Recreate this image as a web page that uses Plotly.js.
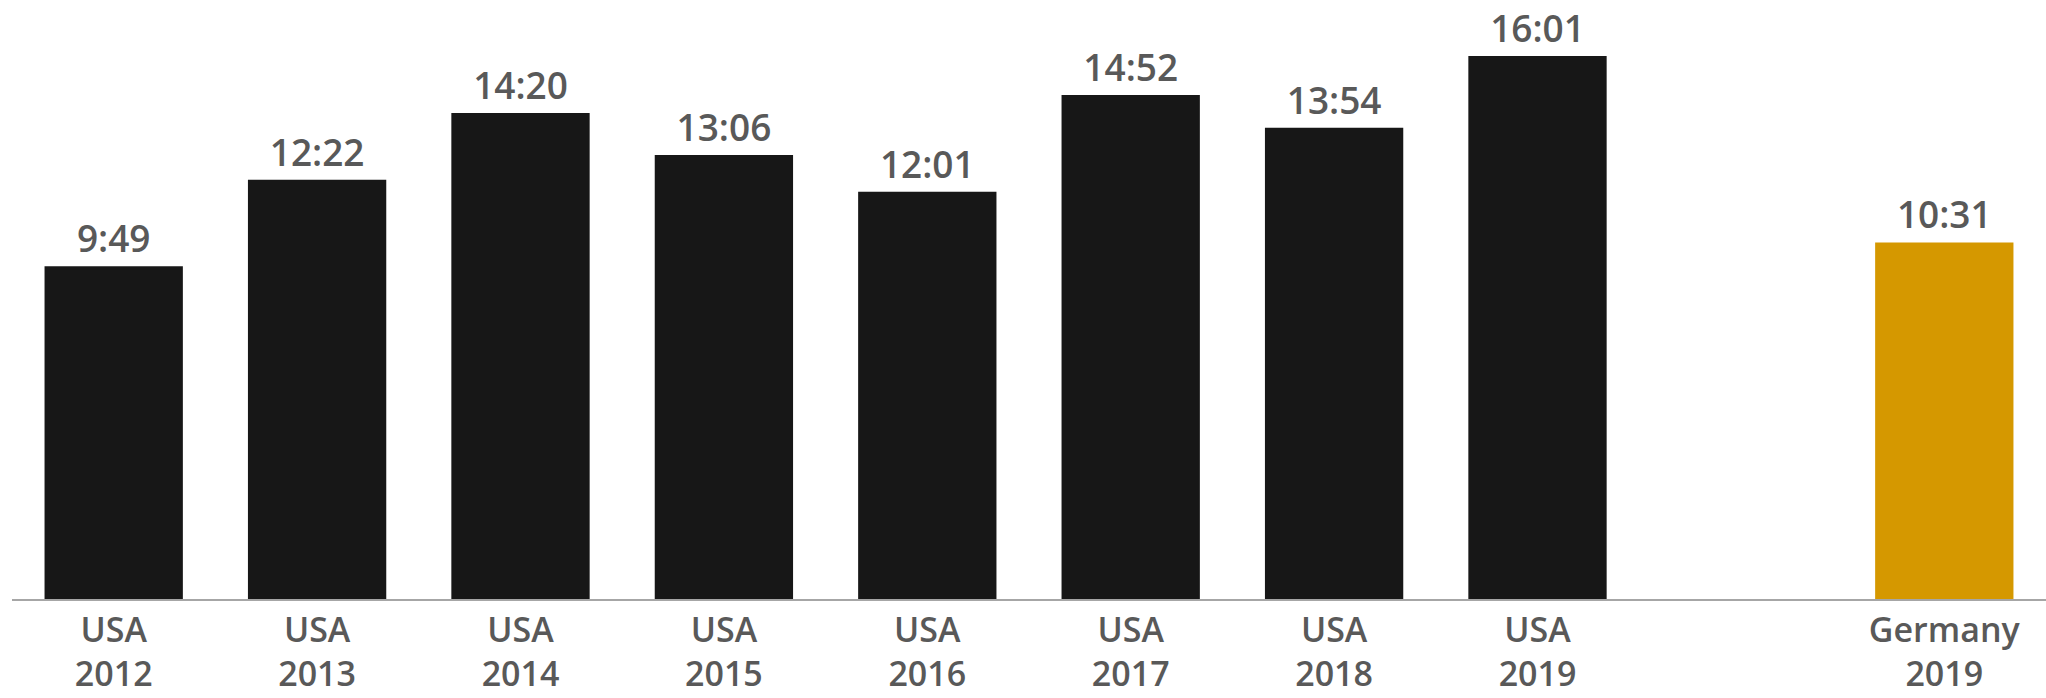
<!DOCTYPE html>
<html>
<head>
<meta charset="utf-8">
<script src="https://cdn.plot.ly/plotly-3.0.1.min.js"></script>
<style>
  html, body { margin: 0; padding: 0; background: #ffffff; }
  #chart { width: 2046px; height: 698px; }
</style>
</head>
<body>
<div id="chart"></div>
<script>
// ---- data ----
var usaLabels = ['USA<br>2012', 'USA<br>2013', 'USA<br>2014', 'USA<br>2015', 'USA<br>2016', 'USA<br>2017', 'USA<br>2018', 'USA<br>2019'];
var usaTimes = ['9:49', '12:22', '14:20', '13:06', '12:01', '14:52', '13:54', '16:01'];
var germanyLabel = 'Germany<br>2019';
var germanyTime = '10:31';

// ---- helpers ----
function toMinutes(t) {
  var p = t.split(':');
  return parseInt(p[0], 10) + parseInt(p[1], 10) / 60;
}

var labels = usaLabels.concat([germanyLabel]);
var times = usaTimes.concat([germanyTime]);
var xs = [];
for (var i = 0; i < usaLabels.length; i++) xs.push(i);
xs.push(usaLabels.length + 1); // leave an empty slot before Germany
var ys = times.map(toMinutes);
var colors = usaTimes.map(function () { return '#171717'; }).concat(['#D59800']);

var trace = {
  type: 'bar',
  x: xs,
  y: ys,
  text: times,
  textposition: 'outside',
  cliponaxis: false,
  textfont: { family: 'Open Sans, sans-serif', size: 37, color: '#595959', weight: 600 },
  marker: { color: colors, line: { width: 0 } },
  width: 0.68,
  hoverinfo: 'none'
};

var layout = {
  width: 2046,
  height: 698,
  margin: { l: 12, r: 0, t: 0, b: 99 },
  paper_bgcolor: '#ffffff',
  plot_bgcolor: '#ffffff',
  showlegend: false,
  font: { family: 'Open Sans, sans-serif', color: '#595959' },
  xaxis: {
    type: 'linear',
    range: [-0.5, 9.5],
    tickmode: 'array',
    tickvals: xs,
    ticktext: labels,
    tickfont: { family: 'Open Sans, sans-serif', size: 34, color: '#595959', weight: 600 },
    ticklabelstandoff: 0,
    showgrid: false,
    zeroline: false,
    showline: true,
    linecolor: '#A6A6A6',
    linewidth: 2,
    ticks: '',
    fixedrange: true
  },
  yaxis: {
    range: [0, 17.67],
    visible: false,
    showgrid: false,
    zeroline: false,
    fixedrange: true
  }
};

Plotly.newPlot('chart', [trace], layout, { displayModeBar: false, staticPlot: true });
</script>
</body>
</html>
